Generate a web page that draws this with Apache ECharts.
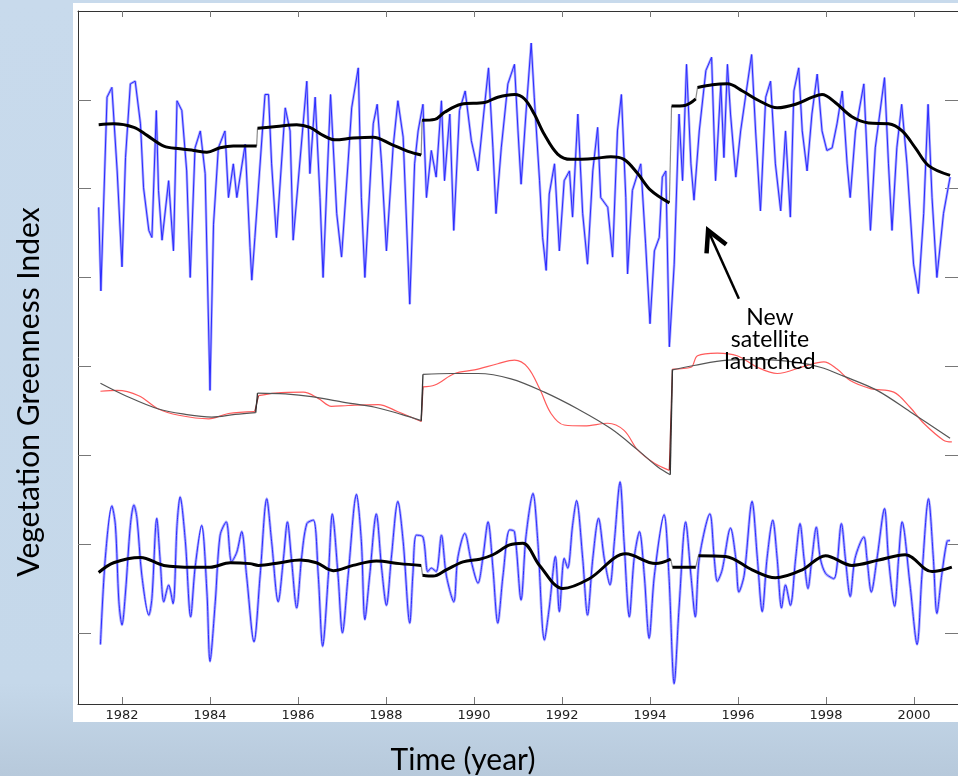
<!DOCTYPE html>
<html>
<head>
<meta charset="utf-8">
<title>Vegetation Greenness Index</title>
<script src="https://cdn.jsdelivr.net/npm/echarts@6/dist/echarts.min.js"></script>
<style>
html, body { margin: 0; padding: 0; }
body { width: 958px; height: 776px; overflow: hidden; position: relative;
  background: linear-gradient(180deg, #c8daec 0%, #c5d8ea 88%, #b7c9db 100%); }
#panel { position: absolute; left: 73px; top: 3px; width: 885px; height: 719px; background: #fff; }
#chart { position: absolute; left: 0; top: 0; width: 958px; height: 776px; }
</style>
</head>
<body>
<div id="panel"></div>
<div id="chart"></div>
<script>
// tick marks
var yearTicks = [1982, 1984, 1986, 1988, 1990, 1992, 1994, 1996, 1998, 2000];
var valueTicks = [1, 2, 3, 4, 5, 6, 7];

// top panel: raw greenness index [year, value]
var topRaw = [
  [1981.47,5.79],[1981.52,4.85],[1981.66,7.03],[1981.77,7.14],[1981.89,6.20],[1982.00,5.12],[1982.08,6.35],[1982.19,7.18],
  [1982.30,7.21],[1982.42,6.73],[1982.49,6.01],[1982.61,5.53],[1982.68,5.45],[1982.78,6.88],[1982.83,5.98],[1982.91,5.42],
  [1983.06,6.09],[1983.17,5.30],[1983.25,6.99],[1983.36,6.88],[1983.47,6.20],[1983.55,5.00],[1983.59,5.53],[1983.66,6.46],
  [1983.78,6.65],[1983.89,6.17],[1984.00,3.73],[1984.08,5.60],[1984.19,6.46],[1984.34,6.65],[1984.42,5.90],[1984.53,6.28],
  [1984.61,5.90],[1984.80,6.50],[1984.91,5.34],[1984.95,4.97],[1985.02,5.45],[1985.25,7.06],[1985.33,7.06],[1985.40,6.28],
  [1985.51,5.45],[1985.71,6.91],[1985.82,6.65],[1985.89,5.42],[1986.20,7.21],[1986.27,6.17],[1986.39,7.03],[1986.50,5.90],
  [1986.57,5.00],[1986.74,7.06],[1986.88,5.72],[1986.99,5.23],[1987.14,6.31],[1987.22,6.91],[1987.37,7.36],[1987.44,5.90],
  [1987.52,5.00],[1987.71,6.73],[1987.80,6.95],[1987.90,6.28],[1988.01,5.30],[1988.16,6.46],[1988.27,6.99],[1988.39,6.58],
  [1988.54,4.70],[1988.65,6.28],[1988.73,6.65],[1988.84,6.95],[1988.92,5.90],[1989.03,6.43],[1989.14,6.13],[1989.26,6.99],
  [1989.33,6.09],[1989.45,6.84],[1989.54,5.53],[1989.67,6.88],[1989.80,7.10],[1989.94,6.54],[1990.09,6.20],[1990.22,6.84],
  [1990.33,7.36],[1990.43,6.46],[1990.50,5.72],[1990.62,6.46],[1990.77,7.18],[1990.92,7.40],[1991.00,6.65],[1991.07,6.05],
  [1991.18,6.84],[1991.30,7.64],[1991.37,7.03],[1991.49,6.09],[1991.56,5.45],[1991.64,5.08],[1991.71,5.94],[1991.83,6.28],
  [1991.94,5.30],[1992.05,6.09],[1992.17,6.20],[1992.24,5.68],[1992.36,6.84],[1992.47,5.72],[1992.58,5.15],[1992.70,6.20],
  [1992.81,6.69],[1992.88,5.90],[1993.04,5.79],[1993.15,5.23],[1993.26,6.65],[1993.35,7.06],[1993.45,5.90],[1993.49,5.04],
  [1993.60,5.98],[1993.79,6.28],[1993.90,5.38],[1994.00,4.48],[1994.10,5.30],[1994.21,5.45],[1994.28,6.13],[1994.36,6.20],
  [1994.44,4.22],[1994.55,5.15],[1994.66,6.84],[1994.74,6.09],[1994.83,7.40],[1994.93,6.28],[1995.00,5.87],[1995.12,6.65],
  [1995.27,7.33],[1995.40,7.48],[1995.49,6.09],[1995.61,7.18],[1995.68,6.35],[1995.76,7.40],[1995.83,6.84],[1995.95,6.13],
  [1996.06,6.65],[1996.17,7.03],[1996.31,7.51],[1996.40,6.65],[1996.51,5.75],[1996.63,7.03],[1996.74,7.21],[1996.85,6.28],
  [1996.97,5.75],[1997.08,6.65],[1997.19,5.68],[1997.27,7.10],[1997.38,7.36],[1997.46,6.65],[1997.57,6.20],[1997.68,6.84],
  [1997.80,7.29],[1997.91,6.65],[1998.02,6.43],[1998.14,6.46],[1998.25,6.73],[1998.37,7.10],[1998.48,6.28],[1998.55,5.90],
  [1998.67,6.65],[1998.86,7.18],[1999.01,5.53],[1999.12,6.46],[1999.33,7.25],[1999.42,6.28],[1999.50,5.53],[1999.61,6.46],
  [1999.72,6.95],[1999.84,6.28],[1999.99,5.15],[2000.10,4.82],[2000.22,5.72],[2000.32,6.95],[2000.41,5.90],[2000.52,5.00],
  [2000.67,5.72],[2000.82,6.13]
];

// top panel: trend, one list per sensor period
var topTrend = [
  [[1981.47,6.72],[1981.81,6.73],[1982.27,6.69],[1982.57,6.60],[1982.95,6.48],[1983.32,6.45],[1983.63,6.43],[1983.93,6.41],[1984.23,6.46],[1984.53,6.48],[1985.06,6.48]],
  [[1985.08,6.68],[1985.51,6.70],[1985.97,6.72],[1986.27,6.69],[1986.57,6.60],[1986.84,6.55],[1987.25,6.57],[1987.71,6.58],[1988.12,6.50],[1988.50,6.42],[1988.80,6.38]],
  [[1988.82,6.77],[1989.11,6.78],[1989.33,6.86],[1989.71,6.95],[1990.24,6.97],[1990.54,7.03],[1990.92,7.06],[1991.15,7.01],[1991.37,6.84],[1991.60,6.61],[1991.90,6.39],[1992.20,6.33],[1992.73,6.34],[1993.11,6.36],[1993.41,6.33],[1993.72,6.17],[1994.02,5.98],[1994.44,5.84]],
  [[1994.49,6.93],[1994.81,6.94],[1995.04,7.01]],
  [[1995.08,7.14],[1995.42,7.17],[1995.76,7.18],[1996.10,7.10],[1996.48,6.99],[1996.89,6.91],[1997.31,6.95],[1997.69,7.03],[1997.91,7.06],[1998.21,6.97],[1998.59,6.81],[1998.97,6.74],[1999.42,6.73],[1999.73,6.65],[2000.03,6.46],[2000.33,6.26],[2000.82,6.15]]
];

// middle panel: trend component (red) and its fitted curve (grey)
var midRed = [
  [[1981.51,3.72],[1981.89,3.73],[1982.38,3.67],[1982.83,3.52],[1983.29,3.45],[1983.97,3.41],[1984.42,3.47],[1985.02,3.49]],
  [[1985.10,3.67],[1985.48,3.70],[1986.12,3.71],[1986.46,3.64],[1986.76,3.55],[1987.14,3.56],[1987.82,3.57],[1988.27,3.49],[1988.80,3.38]],
  [[1988.84,3.77],[1989.11,3.79],[1989.56,3.92],[1990.01,3.96],[1990.54,4.03],[1990.92,4.07],[1991.22,3.99],[1991.49,3.75],[1991.75,3.47],[1992.05,3.34],[1992.51,3.33],[1993.04,3.36],[1993.41,3.28],[1993.72,3.06],[1994.10,2.91],[1994.44,2.83]],
  [[1994.51,3.97],[1994.93,3.99],[1995.08,4.12],[1995.53,4.15],[1995.98,4.12],[1996.44,3.99],[1996.89,3.92],[1997.50,4.00],[1997.95,4.05],[1998.25,3.97],[1998.55,3.84],[1999.01,3.75],[1999.54,3.71],[1999.91,3.54],[2000.22,3.36],[2000.67,3.17],[2000.86,3.15]]
];
var midFit = [
  [[1981.51,3.81],[1982.08,3.67],[1982.83,3.52],[1983.44,3.46],[1984.04,3.43],[1984.57,3.46],[1985.04,3.48]],
  [[1985.08,3.70],[1985.71,3.69],[1986.31,3.66],[1986.99,3.60],[1987.75,3.54],[1988.35,3.46],[1988.80,3.39]],
  [[1988.84,3.91],[1989.48,3.92],[1990.09,3.92],[1990.84,3.86],[1991.60,3.71],[1992.36,3.52],[1993.11,3.30],[1993.72,3.06],[1994.17,2.87],[1994.46,2.78]],
  [[1994.51,3.96],[1995.00,4.01],[1995.76,4.07],[1996.51,4.08],[1997.27,4.05],[1997.87,3.99],[1998.40,3.89],[1999.16,3.73],[1999.91,3.49],[2000.82,3.19]]
];

// bottom panel: seasonal component and its smooth
var bottomRaw = [
  [1981.51,0.87],[1981.62,1.84],[1981.77,2.43],[1981.85,2.21],[1981.93,1.35],[1982.00,1.09],[1982.08,1.46],[1982.19,2.21],
  [1982.27,2.44],[1982.34,2.29],[1982.45,1.65],[1982.61,1.20],[1982.68,1.39],[1982.79,2.29],[1982.87,1.80],[1982.95,1.35],
  [1983.06,1.54],[1983.16,1.33],[1983.25,2.21],[1983.32,2.53],[1983.44,2.03],[1983.56,1.18],[1983.66,1.73],[1983.81,2.21],
  [1983.93,1.46],[1984.00,0.68],[1984.12,1.35],[1984.23,2.10],[1984.37,2.25],[1984.49,1.80],[1984.61,1.91],[1984.72,2.14],
  [1984.83,1.65],[1985.00,0.90],[1985.14,1.65],[1985.29,2.51],[1985.40,2.03],[1985.55,1.35],[1985.67,1.84],[1985.76,2.25],
  [1985.85,1.84],[1985.97,1.28],[1986.08,1.84],[1986.20,2.23],[1986.35,2.27],[1986.46,1.65],[1986.56,0.85],[1986.69,1.65],
  [1986.78,2.34],[1986.91,1.65],[1987.01,1.00],[1987.14,1.65],[1987.33,2.56],[1987.44,2.03],[1987.52,1.15],[1987.63,1.65],
  [1987.78,2.34],[1987.90,1.73],[1988.01,1.31],[1988.12,1.84],[1988.27,2.48],[1988.39,2.03],[1988.54,1.11],[1988.61,1.65],
  [1988.69,2.10],[1988.84,2.08],[1988.95,1.69],[1989.03,1.73],[1989.14,1.69],[1989.26,2.10],[1989.37,1.65],[1989.54,1.35],
  [1989.63,1.84],[1989.79,2.12],[1989.94,1.80],[1990.09,1.56],[1990.20,1.84],[1990.32,2.25],[1990.43,1.73],[1990.54,1.11],
  [1990.66,1.65],[1990.81,2.16],[1990.92,2.14],[1991.07,1.37],[1991.18,2.08],[1991.34,2.57],[1991.45,2.03],[1991.60,0.92],
  [1991.71,1.28],[1991.85,1.86],[1991.94,1.24],[1992.05,1.84],[1992.13,1.73],[1992.24,2.21],[1992.33,2.49],[1992.47,1.84],
  [1992.58,1.20],[1992.70,1.84],[1992.83,2.29],[1992.96,1.84],[1993.09,1.54],[1993.19,2.03],[1993.32,2.70],[1993.41,2.03],
  [1993.53,1.18],[1993.64,1.84],[1993.76,2.14],[1993.87,1.65],[1993.98,0.94],[1994.10,1.65],[1994.32,2.33],[1994.43,1.65],
  [1994.55,0.43],[1994.66,1.28],[1994.81,2.25],[1994.93,1.65],[1995.03,1.18],[1995.12,1.84],[1995.36,2.34],[1995.46,1.84],
  [1995.53,1.58],[1995.64,1.71],[1995.83,2.18],[1995.95,1.84],[1996.02,1.46],[1996.14,1.65],[1996.32,2.48],[1996.44,1.84],
  [1996.55,1.24],[1996.66,1.84],[1996.79,2.27],[1996.89,1.84],[1996.99,1.28],[1997.08,1.54],[1997.19,1.31],[1997.31,1.84],
  [1997.41,2.23],[1997.50,1.84],[1997.59,1.50],[1997.68,1.84],[1997.78,2.19],[1997.87,1.84],[1997.99,1.67],[1998.18,1.61],
  [1998.35,2.23],[1998.44,1.84],[1998.55,1.41],[1998.66,1.84],[1998.86,2.08],[1998.93,1.84],[1999.03,1.46],[1999.16,1.84],
  [1999.33,2.40],[1999.42,1.84],[1999.56,1.30],[1999.65,1.84],[1999.73,2.25],[1999.91,1.54],[2000.07,0.87],[2000.18,1.65],
  [2000.33,2.51],[2000.44,1.84],[2000.52,1.22],[2000.63,1.65],[2000.75,2.03],[2000.82,2.04]
];
var bottomTrend = [
  [[1981.47,1.68],[1981.81,1.79],[1982.42,1.85],[1982.95,1.76],[1983.63,1.74],[1984.00,1.74],[1984.46,1.79],[1984.91,1.78],[1985.10,1.76],[1985.59,1.79],[1986.05,1.82],[1986.42,1.79],[1986.80,1.70],[1987.25,1.76],[1987.78,1.81],[1988.31,1.78],[1988.80,1.76]],
  [[1988.83,1.65],[1989.07,1.64],[1989.37,1.71],[1989.75,1.80],[1990.13,1.83],[1990.43,1.88],[1990.81,1.99],[1991.11,2.01],[1991.49,1.76],[1992.02,1.50],[1992.62,1.61],[1993.45,1.89],[1994.13,1.78],[1994.47,1.83]],
  [[1994.51,1.74],[1995.04,1.74]],
  [[1995.10,1.87],[1995.72,1.86],[1996.32,1.71],[1996.85,1.62],[1997.46,1.71],[1997.99,1.87],[1998.59,1.76],[1999.20,1.82],[1999.80,1.88],[2000.41,1.69],[2000.86,1.74]]
];

// annotation arrow, in data coordinates
var arrowTail = [1996.02, 4.76];
var arrowTip = [1995.32, 5.53];

var chart = echarts.init(document.getElementById('chart'));
var series = [];

function addLine(data, color, width, z, smooth) {
  series.push({
    type: 'line', data: data, symbol: 'none', showSymbol: false,
    smooth: smooth || false, silent: true, z: z,
    lineStyle: { color: color, width: width }
  });
}
// segments joined by thin jump lines
function addSegments(segs, color, width, jumpColor, jumpWidth, z) {
  for (var i = 0; i < segs.length; i++) {
    addLine(segs[i], color, width, z, 0.35);
    if (i > 0) {
      var prev = segs[i - 1];
      addLine([prev[prev.length - 1], segs[i][0]], jumpColor, jumpWidth, z - 1);
    }
  }
}

addLine(topRaw, '#adadff', 2.6, 2);
addLine(topRaw, '#2a2aff', 1, 3);
addLine(bottomRaw, '#adadff', 2.8, 2, 0.3);
addLine(bottomRaw, '#2a2aff', 1, 3, 0.3);
addSegments(midRed, '#ff5b5b', 1.2, '#7a2020', 1.3, 5);
addSegments(midFit, '#555555', 1.2, '#333333', 1.3, 6);
addSegments(topTrend, '#000000', 3, '#8c8c8c', 1.2, 8);
addSegments(bottomTrend, '#000000', 3, '#8c8c8c', 1.2, 8);

var xBase = {
  type: 'value', min: 1981, max: 2001,
  axisLine: { show: true, onZero: false, lineStyle: { color: '#333', width: 1 } },
  splitLine: { show: false }
};
var yBase = {
  type: 'value', min: 0.2, max: 8,
  axisLine: { show: true, onZero: false, lineStyle: { color: '#333', width: 1 } },
  axisTick: { show: true, inside: true, length: 13, customValues: valueTicks, lineStyle: { color: '#777' } },
  axisLabel: { show: false },
  splitLine: { show: false }
};

chart.setOption({
  animation: false,
  grid: { left: 78, top: 11, width: 883, height: 693, containLabel: false },
  xAxis: [
    Object.assign({}, xBase, {
      position: 'bottom',
      axisTick: { show: true, inside: true, length: 7, customValues: yearTicks, lineStyle: { color: '#777' } },
      axisLabel: {
        customValues: yearTicks, margin: 5, color: '#222',
        fontFamily: 'DejaVu Sans', fontSize: 13,
        formatter: function (v) { return String(v); }
      }
    }),
    Object.assign({}, xBase, {
      position: 'top',
      axisTick: { show: true, inside: true, length: 6, customValues: yearTicks, lineStyle: { color: '#777' } },
      axisLabel: { show: false }
    })
  ],
  yAxis: [
    Object.assign({}, yBase, { position: 'left' }),
    Object.assign({}, yBase, { position: 'right' })
  ],
  series: series
});

// arrow and texts
var tip = chart.convertToPixel({ gridIndex: 0 }, arrowTip);
var tail = chart.convertToPixel({ gridIndex: 0 }, arrowTail);
var ang = Math.atan2(tail[1] - tip[1], tail[0] - tip[0]);
var headLen = 23, headAng = 0.49;
var arm1 = [tip[0] + headLen * Math.cos(ang - headAng), tip[1] + headLen * Math.sin(ang - headAng)];
var arm2 = [tip[0] + headLen * Math.cos(ang + headAng), tip[1] + headLen * Math.sin(ang + headAng)];

chart.setOption({
  graphic: [
    { type: 'line', shape: { x1: tail[0], y1: tail[1], x2: tip[0], y2: tip[1] }, style: { stroke: '#000', lineWidth: 2.5 }, z: 20 },
    { type: 'polyline', shape: { points: [arm1, tip, arm2] }, style: { stroke: '#000', lineWidth: 4.5, fill: null, lineJoin: 'miter' }, z: 20 },
    { type: 'text', x: 770, y: 340, z: 20,
      style: { text: 'New\nsatellite\nlaunched', fill: '#000', font: '23px Lato', align: 'center', verticalAlign: 'middle', lineHeight: 22 } },
    { type: 'text', x: 463, y: 760, z: 20,
      style: { text: 'Time (year)', fill: '#000', font: '30px Lato', align: 'center', verticalAlign: 'middle' } },
    { type: 'text', x: 29, y: 392, rotation: Math.PI / 2, z: 20,
      style: { text: 'Vegetation Greenness Index', fill: '#000', font: '30px Lato', align: 'center', verticalAlign: 'middle' } }
  ]
});
</script>
</body>
</html>
